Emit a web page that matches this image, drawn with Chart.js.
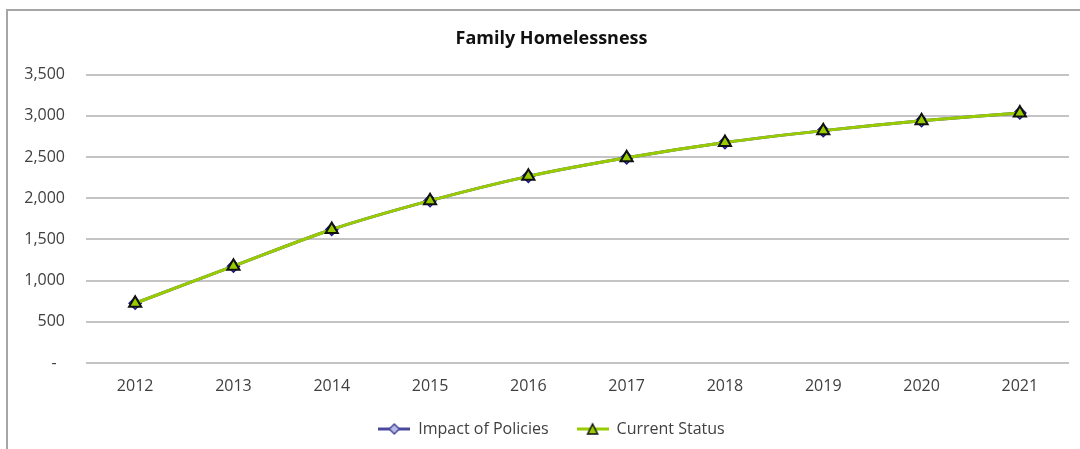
<!DOCTYPE html>
<html>
<head>
<meta charset="utf-8">
<style>
  html, body { margin: 0; padding: 0; background: #fff; }
  #wrap { position: relative; width: 1080px; height: 449px; }
</style>
<script src="https://cdn.jsdelivr.net/npm/chart.js@4"></script>
</head>
<body>
<div id="wrap"><canvas id="homeless-chart" width="1080" height="449"></canvas></div>
<script>
const years = ['2012', '2013', '2014', '2015', '2016', '2017', '2018', '2019', '2020', '2021']
const impactOfPolicies = [725, 1175, 1620, 1970, 2265, 2490, 2675, 2820, 2940, 3035]
const currentStatus = [725, 1175, 1620, 1970, 2265, 2490, 2675, 2820, 2940, 3035]
const yTicks = [0, 500, 1000, 1500, 2000, 2500, 3000, 3500]

const GREEN = '#99cc00'
const BLUE = '#4a4a9c'
const FONT = "'Open Sans', 'Liberation Sans', sans-serif"

// 범례용 마커 (선 + 마커) 그리기
function legendIcon(kind) {
  const c = document.createElement('canvas')
  c.width = 32
  c.height = 14
  const g = c.getContext('2d')
  g.lineWidth = 3
  g.strokeStyle = kind === 'diamond' ? BLUE : GREEN
  g.beginPath()
  g.moveTo(0, 7)
  g.lineTo(32, 7)
  g.stroke()
  g.lineWidth = 1.5
  if (kind === 'diamond') {
    g.fillStyle = '#b8b8e8'
    g.strokeStyle = BLUE
    g.beginPath()
    g.moveTo(16, 2); g.lineTo(21, 7); g.lineTo(16, 12); g.lineTo(11, 7); g.closePath()
  } else {
    g.fillStyle = GREEN
    g.strokeStyle = '#111'
    g.beginPath()
    g.moveTo(16, 2); g.lineTo(21, 12); g.lineTo(11, 12); g.closePath()
  }
  g.fill()
  g.stroke()
  return c
}

// 차트 외곽 프레임
const framePlugin = {
  id: 'frame',
  beforeDraw(chart) {
    const ctx = chart.ctx
    ctx.save()
    ctx.strokeStyle = '#a6a6a6'
    ctx.lineWidth = 2
    ctx.beginPath()
    ctx.moveTo(7, 460)
    ctx.lineTo(7, 10)
    ctx.lineTo(1090, 10)
    ctx.stroke()
    ctx.restore()
  }
}

// 제목/범례를 플롯 영역 중심 쪽으로 살짝 이동
const shiftPlugin = {
  id: 'shift',
  afterLayout(chart) {
    for (const box of [chart.legend, chart.titleBlock]) {
      if (box) box.left += 34
    }
  }
}

const icons = [legendIcon('diamond'), legendIcon('triangle')]

new Chart(document.getElementById('homeless-chart'), {
  type: 'line',
  data: {
    labels: years,
    datasets: [
      {
        label: 'Impact of Policies',
        data: impactOfPolicies,
        order: 1,
        borderColor: BLUE,
        backgroundColor: '#b8b8e8',
        borderWidth: 3,
        pointStyle: 'rectRot',
        pointRadius: 6,
        pointBorderColor: '#1a1a8c',
        pointBorderWidth: 1.5,
        tension: 0.3
      },
      {
        label: 'Current Status',
        data: currentStatus,
        order: 0,
        borderColor: GREEN,
        backgroundColor: GREEN,
        borderWidth: 3,
        pointStyle: 'triangle',
        pointRadius: 7,
        pointBorderColor: '#111',
        pointBorderWidth: 2,
        tension: 0.3
      }
    ]
  },
  options: {
    responsive: false,
    animation: false,
    layout: { padding: { left: 0, right: 11, top: 0, bottom: 2 } },
    plugins: {
      title: {
        display: true,
        text: 'Family Homelessness',
        color: '#111',
        font: { family: FONT, size: 18, weight: 'bold' },
        padding: { top: 28, bottom: 25 }
      },
      legend: {
        position: 'bottom',
        labels: {
          color: '#404040',
          font: { family: FONT, size: 16 },
          usePointStyle: true,
          pointStyleWidth: 32,
          padding: 28,
          generateLabels: chart => chart.data.datasets.map((ds, i) => ({
            text: ds.label,
            pointStyle: icons[i],
            fontColor: '#404040',
            hidden: false,
            datasetIndex: i,
            lineWidth: 0
          }))
        }
      },
      tooltip: { enabled: false }
    },
    scales: {
      x: {
        offset: true,
        afterFit: scale => { scale.height = 30 },
        grid: { display: false, drawTicks: false },
        border: { display: false },
        ticks: { color: '#404040', font: { family: FONT, size: 16 }, padding: 14 }
      },
      y: {
        min: 0,
        max: 3500,
        afterFit: scale => { scale.width = 86 },
        afterBuildTicks: scale => { scale.ticks = yTicks.map(v => ({ value: v })) },
        grid: { color: '#c4c4c4', lineWidth: 2, drawTicks: false },
        border: { display: false },
        ticks: {
          color: '#404040',
          font: { family: FONT, size: 16 },
          padding: 21,
          callback: v => v === 0 ? '-  ' : v.toLocaleString('en-US')
        }
      }
    }
  },
  plugins: [framePlugin, shiftPlugin]
})
</script>
</body>
</html>
